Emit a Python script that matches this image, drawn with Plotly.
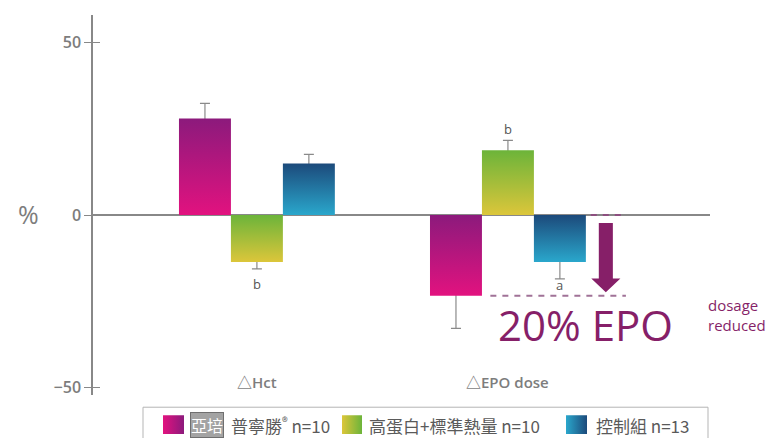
import plotly.graph_objects as go

# ---- data -------------------------------------------------------------
groups = ["△Hct", "△EPO dose"]
series_names = ["普寧勝", "高蛋白+標準熱量", "控制組"]
series_n = ["n=10", "n=10", "n=13"]

prosure_vals = [28.0, -23.4]
protein_vals = [-13.6, 18.8]
control_vals = [15.0, -13.6]

prosure_err = [4.4, 9.5]
protein_err = [2.0, 2.9]
control_err = [2.6, 4.9]

# significance letters: (series index, group index, letter)
sig_letters = [(1, 0, "b"), (1, 1, "b"), (2, 1, "a")]

y_ticks = [-50, 0, 50]
reduction_label = "20% EPO"
reduction_note = "dosage<br>reduced"

# ---- styling ----------------------------------------------------------
W, H = 775, 441
FONT = "Open Sans, Noto Sans CJK TC, sans-serif"
CJK = "Noto Sans CJK TC, Noto Sans, sans-serif"
GREY = "#7d7d7d"
PLUM = "#861f68"

# (top colour, bottom colour) for each series
gradients = [("#8c1a7c", "#e2127f"),
             ("#6cb43a", "#dcc63a"),
             ("#1c4a7b", "#2aa7cc")]

values = [prosure_vals, protein_vals, control_vals]
errors = [prosure_err, protein_err, control_err]

bar_w = 0.207
offsets = [-bar_w, 0.0, bar_w]
x_range = [-0.653, 1.805]
y_range = [-52.3, 58.1]

fig = go.Figure()

# error whiskers (drawn first so the bars cover the inner end)
for s in range(3):
    for g in range(2):
        v, e = values[s][g], errors[s][g]
        sign = 1 if v >= 0 else -1
        anchor = v - sign * 1.0
        fig.add_trace(go.Scatter(
            x=[g + offsets[s]], y=[anchor], mode="markers",
            marker=dict(size=1, opacity=0), hoverinfo="skip", showlegend=False,
            error_y=dict(type="data", symmetric=False,
                         array=[e + 1.0 if sign > 0 else 0],
                         arrayminus=[e + 1.0 if sign < 0 else 0],
                         color="#8a8a8a", thickness=1.2, width=5)))

# gradient bars
for s in range(3):
    top, bottom = gradients[s]
    for g in range(2):
        v = values[s][g]
        xc = g + offsets[s]
        x0, x1 = xc - bar_w / 2, xc + bar_w / 2
        fig.add_trace(go.Scatter(
            x=[x0, x1, x1, x0, x0], y=[0, 0, v, v, 0],
            mode="lines", line=dict(width=0), fill="toself",
            fillgradient=dict(type="vertical",
                              colorscale=[[0, bottom], [1, top]]),
            hoverinfo="skip", showlegend=False))

# dashed guide lines for the EPO reduction
epo = prosure_vals[1]
fig.add_trace(go.Scatter(x=[0.93, 1.47], y=[epo, epo], mode="lines",
                         line=dict(color="#a07297", width=2, dash="6px,6px"),
                         hoverinfo="skip", showlegend=False))
fig.add_trace(go.Scatter(x=[1.33, 1.47], y=[0, 0], mode="lines",
                         line=dict(color="#8d4f80", width=2, dash="6px,6px"),
                         hoverinfo="skip", showlegend=False))

# downward arrow
ax_c, shaft, head = 1.39, 0.028, 0.058
tip = epo + 1.0
neck = epo + 5.0
top_y = -2.3
arrow_path = (f"M {ax_c - shaft},{top_y} L {ax_c + shaft},{top_y} "
              f"L {ax_c + shaft},{neck} L {ax_c + head},{neck} "
              f"L {ax_c},{tip} L {ax_c - head},{neck} "
              f"L {ax_c - shaft},{neck} Z")
fig.add_shape(type="path", path=arrow_path, xref="x", yref="y",
              fillcolor=PLUM, line=dict(width=0), layer="above")

annotations = []

# significance letters (letters without ascenders sit a little higher)
for s, g, letter in sig_letters:
    v, e = values[s][g], errors[s][g]
    end = v + e if v >= 0 else v - e
    if v >= 0:
        shift = 0
    else:
        shift = -4 if letter in "bdfhklt" else 5
    annotations.append(dict(
        x=g + offsets[s], y=end, xref="x", yref="y", text=letter,
        showarrow=False, xanchor="center",
        yanchor="bottom" if v >= 0 else "top",
        yshift=shift,
        font=dict(family=FONT, size=13, color="#555555")))

# category labels
for g, name in enumerate(groups):
    annotations.append(dict(
        x=g, y=-48.3, xref="x", yref="y", text=name, showarrow=False,
        xanchor="center", yanchor="middle",
        font=dict(family=FONT, size=15, color=GREY, weight=600)))

# axis title and reduction callout
annotations.append(dict(x=28 / W, y=(H - 215) / H, xref="paper", yref="paper",
                        text="%", showarrow=False,
                        xanchor="center", yanchor="middle",
                        font=dict(family=FONT, size=25, color=GREY)))
annotations.append(dict(x=585 / W, y=(H - 327) / H, xref="paper", yref="paper",
                        text=reduction_label, showarrow=False,
                        xanchor="center", yanchor="middle",
                        font=dict(family=FONT, size=42, color=PLUM)))
annotations.append(dict(x=706 / W, y=(H - 317) / H, xref="paper", yref="paper",
                        text=reduction_note, showarrow=False, align="left",
                        xanchor="left", yanchor="middle",
                        font=dict(family=FONT, size=15, color=PLUM)))

# ---- legend strip (pixel coordinates on its own axes) ----------------
legend_y = 428
swatches = [(163, 184), (342, 362), (566, 587)]
for s, (sx0, sx1) in enumerate(swatches):
    top, bottom = gradients[s]
    fig.add_trace(go.Scatter(
        x=[sx0, sx1, sx1, sx0, sx0], y=[418, 418, 437, 437, 418],
        xaxis="x2", yaxis="y2", mode="lines", line=dict(width=0),
        fill="toself",
        fillgradient=dict(type="horizontal", colorscale=[[0, bottom], [1, top]]),
        hoverinfo="skip", showlegend=False))

# brand mark before the first product name
annotations.append(dict(x=190, y=legend_y, xref="x2", yref="y2", text="亞培",
                        showarrow=False, xanchor="left", yanchor="middle",
                        bgcolor="#a3a3a3", bordercolor="#6f6f6f", borderwidth=1,
                        borderpad=0,
                        font=dict(family=CJK, size=16, color="#ffffff")))
legend_texts = [
    (229, series_names[0] + "<sup>®</sup> " + series_n[0]),
    (367, series_names[1] + " " + series_n[1]),
    (594, series_names[2] + " " + series_n[2]),
]
for lx, txt in legend_texts:
    annotations.append(dict(x=lx, y=legend_y, xref="x2", yref="y2", text=txt,
                            showarrow=False, xanchor="left", yanchor="middle",
                            font=dict(family=CJK, size=17, color="#5a5a5a")))

fig.add_shape(type="rect", xref="x2", yref="y2", x0=143, x1=708, y0=410, y1=445,
              line=dict(color="#b5b5b5", width=1), fillcolor="rgba(0,0,0,0)")

fig.update_layout(
    width=W, height=H,
    margin=dict(l=0, r=0, t=0, b=0),
    paper_bgcolor="white", plot_bgcolor="rgba(0,0,0,0)",
    showlegend=False,
    annotations=annotations,
    xaxis=dict(domain=[93 / W, 710 / W], range=x_range, visible=False,
               fixedrange=True),
    yaxis=dict(domain=[(H - 398) / H, (H - 15) / H], range=y_range,
               tickvals=y_ticks, ticks="outside", ticklen=7,
               tickcolor="#888888", tickwidth=1.2,
               minor=dict(tickvals=y_ticks, ticks="inside", ticklen=7,
                          tickcolor="#888888", tickwidth=1.2),
               showline=True, linecolor="#888888", linewidth=1.5,
               showgrid=False, zeroline=True, zerolinecolor="#888888",
               zerolinewidth=1.5,
               tickfont=dict(family=FONT, size=16, color=GREY, weight=600),
               fixedrange=True),
    xaxis2=dict(domain=[0, 1], range=[0, W], visible=False, anchor="y2",
                fixedrange=True),
    yaxis2=dict(domain=[0, 35 / H], range=[H, H - 35], visible=False,
                anchor="x2", fixedrange=True),
)

fig.write_html("out.html")
